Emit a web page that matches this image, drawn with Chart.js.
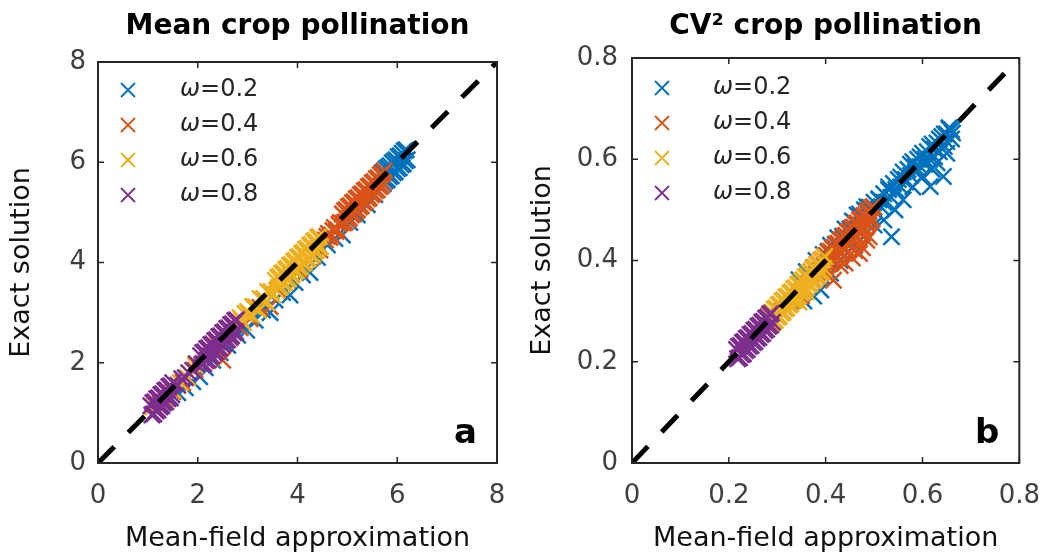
<!DOCTYPE html>
<html>
<head>
<meta charset="utf-8">
<script src="https://cdn.jsdelivr.net/npm/chart.js@4.4.0/dist/chart.umd.min.js"></script>
<style>
  html, body { margin: 0; padding: 0; background: #fff; }
  .panel { position: absolute; top: 0; width: 529px; height: 556px; }
  #panelA { left: 0; }
  #panelB { left: 529px; }
</style>
</head>
<body>
<div class="panel" id="panelA"><canvas id="chartA"></canvas></div>
<div class="panel" id="panelB"><canvas id="chartB"></canvas></div>
<script>
const SERIES_LABELS = ['0.2', '0.4', '0.6', '0.8'];
const COLORS = ['#0072BD', '#D95319', '#EDB120', '#7E2F8E'];
const FONT = '"DejaVu Sans", "Open Sans", sans-serif';

// panel a - mean crop pollination
const meanTicks = [0, 2, 4, 6, 8];
const meanDiag = [0, 8];
const meanX02 = [5.70,5.74,5.78,5.82,5.86,5.90,5.94,5.98,6.02,6.06,6.10,6.14,6.18,
                 5.72,5.76,5.80,5.84,5.88,5.92,5.96,6.00,6.04,6.08,6.12,6.16,6.20,
                 5.55,5.40,5.20,5.05,4.90,4.75,4.60,4.40,4.25,4.10,3.95,3.85,3.70,3.55,3.45,3.30,3.15,2.98,2.80,2.60,2.45,2.30,2.15,2.04,1.90,1.75,1.60,1.45,1.30];
const meanY02 = [5.79,5.81,5.87,5.90,5.93,5.99,6.02,6.05,6.11,6.13,6.18,6.23,6.25,
                 5.57,5.63,5.65,5.71,5.73,5.79,5.81,5.87,5.89,5.95,5.97,6.03,6.05,
                 5.35,5.15,4.95,4.80,4.55,4.48,4.35,4.10,3.80,3.75,3.60,3.35,3.40,3.25,3.00,3.05,2.85,2.65,2.55,2.35,2.20,2.05,1.90,1.72,1.62,1.50,1.40,1.30,1.20];
const meanX04 = [4.90,4.94,4.98,5.02,5.06,5.10,5.14,5.18,5.22,5.26,5.30,5.34,5.38,5.42,5.46,5.50,5.54,5.58,5.62,5.66,5.70,5.74,
                 4.92,4.96,5.00,5.04,5.08,5.12,5.16,5.20,5.24,5.28,5.32,5.36,5.40,5.44,5.48,5.52,5.56,5.60,5.64,5.68,5.72,
                 4.56,4.59,4.62,4.65,4.68,4.71,4.74,4.77,4.80,4.83,4.86,
                 4.45,4.30,4.05,3.80,3.60,3.45,3.25,3.05,2.85,2.65,2.50,2.40,2.20,1.95,1.70,1.50,1.25];
const meanY04 = [4.97,5.03,5.05,5.11,5.13,5.19,5.21,5.27,5.29,5.35,5.37,5.43,5.45,5.51,5.53,5.59,5.61,5.67,5.69,5.75,5.77,5.83,
                 4.79,4.81,4.87,4.89,4.95,4.97,5.03,5.05,5.11,5.13,5.19,5.21,5.27,5.29,5.35,5.37,5.43,5.45,5.51,5.53,5.59,
                 4.45,4.52,4.58,4.50,4.55,4.64,4.70,4.62,4.66,4.76,4.80,
                 4.25,4.12,3.85,3.65,3.45,3.12,3.10,2.88,2.70,2.50,2.05,2.25,2.05,1.85,1.60,1.42,1.18];
const meanX06 = [3.56,3.60,3.64,3.68,3.72,3.76,3.80,3.84,3.88,3.92,3.96,4.00,4.04,4.08,4.12,4.16,4.20,4.24,4.28,4.32,4.36,4.40,4.44,
                 3.58,3.62,3.66,3.70,3.74,3.78,3.82,3.86,3.90,3.94,3.98,4.02,4.06,4.10,4.14,4.18,4.22,4.26,4.30,4.34,4.38,4.42,4.46,
                 2.85,2.875,2.92,2.95,3.00,3.025,3.08,3.10,3.15,3.175,3.22,3.25,3.30,3.325,3.38,3.40,3.45,3.475,3.50,
                 2.70,2.55,2.40,2.25,2.10,1.95,1.80,1.65,1.50,1.35,1.20,1.10];
const meanY06 = [3.64,3.70,3.72,3.78,3.80,3.86,3.88,3.94,3.96,4.02,4.04,4.10,4.12,4.18,4.20,4.26,4.28,4.34,4.36,4.42,4.44,4.50,4.52,
                 3.44,3.50,3.52,3.58,3.60,3.66,3.68,3.74,3.76,3.82,3.84,3.90,3.92,3.98,4.00,4.06,4.08,4.14,4.16,4.22,4.24,4.30,4.32,
                 2.90,2.85,2.80,2.98,3.02,2.98,2.95,3.12,3.12,3.10,3.05,3.28,3.25,3.28,3.20,3.42,3.40,3.42,3.35,
                 2.62,2.45,2.35,2.15,2.00,1.95,1.70,1.60,1.45,1.28,1.15,1.12];
const meanX08 = [2.06,2.10,2.14,2.18,2.22,2.26,2.30,2.34,2.38,2.42,2.46,2.50,2.54,2.58,2.62,2.66,2.70,2.74,2.78,
                 2.08,2.12,2.16,2.20,2.24,2.28,2.32,2.36,2.40,2.44,2.48,2.52,2.56,2.60,2.64,2.68,2.72,2.76,
                 1.60,1.68,1.75,1.82,1.90,1.97,
                 1.06,1.10,1.14,1.18,1.22,1.26,1.30,1.34,1.38,1.42,1.46,1.50,
                 1.08,1.12,1.16,1.20,1.24,1.28,1.32,1.36,1.40,1.44,1.48];
const meanY08 = [2.14,2.20,2.22,2.28,2.30,2.36,2.38,2.44,2.46,2.52,2.54,2.60,2.62,2.68,2.70,2.76,2.78,2.84,2.86,
                 1.96,1.98,2.04,2.06,2.12,2.14,2.20,2.22,2.28,2.30,2.36,2.38,2.44,2.46,2.52,2.54,2.60,2.62,
                 1.55,1.68,1.70,1.80,1.85,1.98,
                 1.14,1.20,1.22,1.28,1.30,1.36,1.38,1.44,1.46,1.52,1.54,1.60,
                 0.96,0.98,1.04,1.06,1.12,1.14,1.20,1.22,1.28,1.30,1.36];

// panel b - CV^2 crop pollination
const cvTicks = [0, 0.2, 0.4, 0.6, 0.8];
const cvDiag = [0, 0.8];
const cvX02 = [0.330,0.345,0.360,0.375,0.390,0.405,0.420,0.435,0.450,0.460,0.470,0.480,0.490,0.500,0.510,0.520,0.530,0.540,0.550,0.560,
               0.570,0.580,0.590,0.600,0.610,0.620,0.630,0.640,0.650,0.655,0.660,0.645,0.635,0.625,0.615,0.605,0.595,0.585,0.575,0.565,
               0.555,0.545,0.535,0.525,0.515,0.505,0.495,0.650,0.662,
               0.465,0.475,0.485,0.500,0.510,0.520,0.530,0.545,0.555,0.565,0.575,0.585,0.595,0.605,0.615,0.625,0.635,0.645,0.655,0.660,
               0.345,0.360,0.380,0.395,0.410,0.425,0.440,0.455,0.470,0.485,
               0.536,0.543,0.560,0.616,0.643,0.600,0.630,0.650,0.620,0.580,0.520,0.500,0.390,0.375,0.355,0.410,0.430,0.460];
const cvY02 = [0.335,0.352,0.368,0.385,0.400,0.418,0.432,0.448,0.462,0.475,0.488,0.500,0.505,0.515,0.520,0.532,0.540,0.552,0.560,0.575,
               0.580,0.595,0.600,0.612,0.615,0.630,0.632,0.645,0.650,0.660,0.640,0.625,0.615,0.605,0.600,0.590,0.585,0.575,0.568,0.555,
               0.545,0.535,0.525,0.515,0.505,0.495,0.485,0.635,0.652,
               0.490,0.480,0.498,0.505,0.522,0.515,0.545,0.540,0.565,0.560,0.590,0.585,0.605,0.600,0.625,0.620,0.640,0.650,0.662,0.658,
               0.362,0.378,0.400,0.412,0.430,0.445,0.462,0.478,0.492,0.506,
               0.447,0.500,0.520,0.546,0.566,0.566,0.593,0.612,0.580,0.545,0.480,0.470,0.342,0.330,0.320,0.375,0.400,0.430];
const cvX04 = [0.370,0.374,0.378,0.382,0.386,0.390,0.394,0.398,0.402,0.406,0.410,0.414,0.418,0.422,0.426,0.430,0.434,0.438,0.442,0.446,
               0.450,0.454,0.458,0.462,0.466,0.470,0.474,0.478,0.482,0.486,0.490,0.494,0.498,
               0.372,0.376,0.380,0.384,0.388,0.392,0.396,0.400,0.404,0.408,0.412,0.416,0.420,0.424,0.428,0.432,0.436,0.440,0.444,0.448,
               0.452,0.456,0.460,0.464,0.468,0.472,0.476,0.480,0.484,0.488,0.492,0.496,
               0.416,0.440,0.455,0.470,0.476,0.490,0.485,0.460,0.430,0.400,0.350,0.330,0.310];
const cvY04 = [0.378,0.384,0.386,0.392,0.394,0.400,0.402,0.408,0.410,0.416,0.418,0.424,0.426,0.432,0.434,0.440,0.442,0.448,0.450,0.456,
               0.458,0.464,0.466,0.472,0.474,0.480,0.482,0.488,0.490,0.496,0.498,0.504,0.506,
               0.360,0.362,0.368,0.370,0.376,0.378,0.384,0.386,0.392,0.394,0.400,0.402,0.408,0.410,0.416,0.418,0.424,0.426,0.432,0.434,
               0.440,0.442,0.448,0.450,0.456,0.458,0.464,0.466,0.472,0.474,0.480,0.482,
               0.361,0.395,0.405,0.414,0.425,0.447,0.440,0.420,0.390,0.375,0.330,0.320,0.300];
const cvX06 = [0.282,0.286,0.290,0.294,0.298,0.302,0.306,0.310,0.314,0.318,0.322,0.326,0.330,0.334,0.338,0.342,0.346,0.350,0.354,0.358,
               0.362,0.366,0.370,0.374,0.378,0.382,0.386,0.390,0.394,0.398,
               0.284,0.288,0.292,0.296,0.300,0.304,0.308,0.312,0.316,0.320,0.324,0.328,0.332,0.336,0.340,0.344,0.348,0.352,0.356,0.360,
               0.364,0.368,0.372,0.376,0.380,0.384,0.388,0.392,0.396,
               0.345,0.360,0.270,0.255];
const cvY06 = [0.290,0.296,0.298,0.304,0.306,0.312,0.314,0.320,0.322,0.328,0.330,0.336,0.338,0.344,0.346,0.352,0.354,0.360,0.362,0.368,
               0.370,0.376,0.378,0.384,0.386,0.392,0.394,0.400,0.402,0.408,
               0.272,0.274,0.280,0.282,0.288,0.290,0.296,0.298,0.304,0.306,0.312,0.314,0.320,0.322,0.328,0.330,0.336,0.338,0.344,0.346,
               0.352,0.354,0.360,0.362,0.368,0.370,0.376,0.378,0.384,
               0.318,0.338,0.275,0.262];
const cvX08 = [0.216,0.220,0.224,0.228,0.232,0.236,0.240,0.244,0.248,0.252,0.256,0.260,0.264,0.268,0.272,0.276,0.280,0.284,0.288,
               0.218,0.222,0.226,0.230,0.234,0.238,0.242,0.246,0.250,0.254,0.258,0.262,0.266,0.270,0.274,0.278,0.282,0.286,0.290];
const cvY08 = [0.224,0.230,0.232,0.238,0.240,0.246,0.248,0.254,0.256,0.262,0.264,0.270,0.272,0.278,0.280,0.286,0.288,0.294,0.296,
               0.206,0.208,0.214,0.216,0.222,0.224,0.230,0.232,0.238,0.240,0.246,0.248,0.254,0.256,0.262,0.264,0.270,0.272,0.278];

function pairs(xs, ys) {
    return xs.map((x, i) => ({ x, y: ys[i] }));
}

// box, inward ticks, title, panel letter and the in-axes legend
const framePlugin = {
    id: 'frame',
    afterDraw(chart, args, opts) {
        const { ctx, chartArea: a, scales: { x, y } } = chart;
        ctx.save();
        ctx.strokeStyle = '#262626';
        ctx.lineWidth = 1.5;
        ctx.beginPath();
        opts.ticks.forEach(v => {
            const px = x.getPixelForValue(v), py = y.getPixelForValue(v);
            ctx.moveTo(px, a.bottom); ctx.lineTo(px, a.bottom - 6);
            ctx.moveTo(px, a.top);    ctx.lineTo(px, a.top + 6);
            ctx.moveTo(a.left, py);   ctx.lineTo(a.left + 6, py);
            ctx.moveTo(a.right, py);  ctx.lineTo(a.right - 6, py);
        });
        ctx.stroke();
        ctx.lineWidth = 2;
        ctx.strokeRect(a.left, a.top, a.right - a.left, a.bottom - a.top);

        ctx.fillStyle = '#000';
        ctx.font = 'bold 28px ' + FONT;
        ctx.textAlign = 'center';
        ctx.textBaseline = 'alphabetic';
        ctx.fillText(opts.title, (a.left + a.right) / 2, 34);

        ctx.font = 'bold 34px ' + FONT;
        ctx.textAlign = 'right';
        ctx.fillText(opts.letter, a.right - 20, a.bottom - 20);

        // legend
        ctx.textAlign = 'left';
        ctx.textBaseline = 'middle';
        SERIES_LABELS.forEach((lab, i) => {
            const cy = opts.legendTop + i * 35;
            const cx = opts.legendX;
            ctx.strokeStyle = COLORS[i];
            ctx.lineWidth = 1.8;
            ctx.beginPath();
            ctx.moveTo(cx - 7, cy - 7); ctx.lineTo(cx + 7, cy + 7);
            ctx.moveTo(cx + 7, cy - 7); ctx.lineTo(cx - 7, cy + 7);
            ctx.stroke();
            ctx.fillStyle = '#262626';
            ctx.font = 'italic 24px ' + FONT;
            ctx.fillText('ω', opts.textX, cy);
            const w = ctx.measureText('ω').width;
            ctx.font = '24px ' + FONT;
            ctx.fillText('=' + lab, opts.textX + w, cy);
        });
        ctx.restore();
    }
};

function makePanel(id, cfg) {
    const sets = cfg.series.map(([xs, ys], i) => ({
        label: 'ω=' + SERIES_LABELS[i],
        data: pairs(xs, ys),
        pointStyle: 'crossRot',
        pointRadius: 11.5,
        pointBorderWidth: 2.5,
        borderColor: COLORS[i],
        backgroundColor: COLORS[i],
        order: 4 - i,
    }));
    sets.push({
        type: 'line',
        data: pairs(cfg.diag, cfg.diag),
        borderColor: '#000',
        borderWidth: 5,
        borderDash: [23, 20],
        pointRadius: 0,
        showLine: true,
        order: 0,
    });
    const tickFont = { family: FONT, size: 26 };
    const titleFont = { family: FONT, size: 27, lineHeight: 1 };
    return new Chart(document.getElementById(id), {
        type: 'scatter',
        data: { datasets: sets },
        options: {
            responsive: true,
            maintainAspectRatio: false,
            animation: false,
            layout: { padding: { top: cfg.top, right: cfg.right, left: 0, bottom: 0 } },
            plugins: {
                legend: { display: false },
                tooltip: { enabled: false },
                frame: { ticks: cfg.ticks, title: cfg.title, letter: cfg.letter,
                         legendTop: cfg.legendTop, legendX: cfg.legendX, textX: cfg.textX },
            },
            scales: {
                x: {
                    type: 'linear', min: 0, max: cfg.max,
                    ticks: { stepSize: cfg.step, color: '#404040', font: tickFont, padding: 18, maxRotation: 0, autoSkip: false },
                    grid: { display: false, drawTicks: false },
                    border: { display: false },
                    title: { display: true, text: 'Mean-field approximation', color: '#111', font: titleFont, padding: { top: 0, bottom: 4 } },
                    afterFit(s) { s.height = 93; },
                },
                y: {
                    type: 'linear', min: 0, max: cfg.max,
                    ticks: { stepSize: cfg.step, color: '#404040', font: tickFont, padding: cfg.yPad, autoSkip: false },
                    grid: { display: false, drawTicks: false },
                    border: { display: false },
                    title: { display: true, text: 'Exact solution', color: '#111', font: titleFont, padding: { top: cfg.yTitlePad, bottom: 0 } },
                    afterFit(s) { s.width = cfg.left; },
                },
            },
        },
        plugins: [framePlugin],
    });
}

makePanel('chartA', {
    series: [[meanX02, meanY02], [meanX04, meanY04], [meanX06, meanY06], [meanX08, meanY08]],
    diag: meanDiag, ticks: meanTicks, max: 8, step: 2,
    title: 'Mean crop pollination', letter: 'a',
    left: 98, right: 32, top: 62, yPad: 12, yTitlePad: 8,
    legendTop: 90, legendX: 128, textX: 180,
});

makePanel('chartB', {
    series: [[cvX02, cvY02], [cvX04, cvY04], [cvX06, cvY06], [cvX08, cvY08]],
    diag: cvDiag, ticks: cvTicks, max: 0.8, step: 0.2,
    title: 'CV² crop pollination', letter: 'b',
    left: 103, right: 26, top: 58, yPad: 14, yTitlePad: 0,
    legendTop: 88, legendX: 133, textX: 184,
});
</script>
</body>
</html>
